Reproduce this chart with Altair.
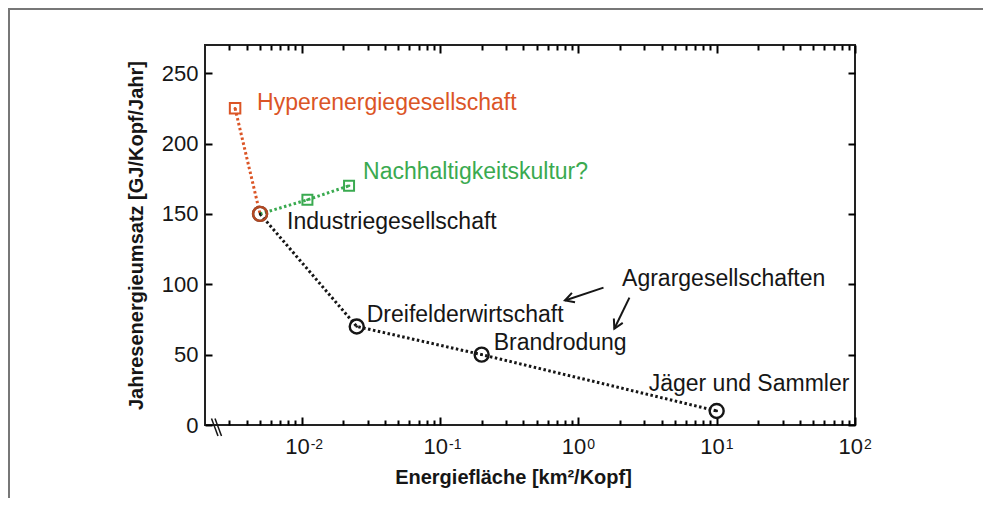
import altair as alt
import pandas as pd

# ---------------- data ----------------
societies = ["Hyperenergiegesellschaft", "Industriegesellschaft", "Dreifelderwirtschaft",
             "Brandrodung", "Jäger und Sammler"]
area_km2 = [0.0033, 0.005, 0.025, 0.2, 10]
energy_gj = [225, 150, 70, 50, 10]

sust_label = "Nachhaltigkeitskultur?"
sust_area = [0.005, 0.011, 0.022]
sust_energy = [150, 160, 170]

agrar_label = "Agrargesellschaften"
agrar_area = [2.07]
agrar_energy = [98.5]

arrow_tail_area = [1.52, 2.34]
arrow_tail_energy = [97.6, 90.5]
arrow_tip_area = [0.80, 1.82]
arrow_tip_energy = [88.5, 68.4]

x_major = [0.01, 0.1, 1, 10, 100]
x_exponents = ["-2", "-1", "0", "1", "2"]
x_minor_mult = [2, 3, 4, 5, 6, 7, 8, 9]
x_minor_decades = [0.001, 0.01, 0.1, 1, 10]
y_ticks = [0, 50, 100, 150, 200, 250]

# ---------------- styles ----------------
FONT = "Liberation Sans"
BLACK = "#161616"
ORANGE = "#DB5526"
GREEN = "#3AAA50"
DOTS = [2.5, 2.5]
W, H = 650, 380

x_minor = [m * d for d in x_minor_decades for m in x_minor_mult if 0.002 < m * d < 100]

xs = alt.Scale(type="log", domain=[0.002, 100])
ys = alt.Scale(domain=[0, 270])

X = alt.X("area:Q", scale=xs, axis=None)
Y = alt.Y("energy:Q", scale=ys, axis=None)

soc = pd.DataFrame({"name": societies, "area": area_km2, "energy": energy_gj,
                    "i": range(len(societies))})
sust = pd.DataFrame({"area": sust_area, "energy": sust_energy, "i": range(len(sust_area))})
xmaj = pd.DataFrame({"area": x_major, "exp": x_exponents})
xmin = pd.DataFrame({"area": x_minor})
ytk = pd.DataFrame({"energy": y_ticks})

black_path = soc.iloc[1:]
orange_path = soc.iloc[0:2]

layers = []

# ---------- axes (each on an invisible helper layer) ----------
x_title_axis = alt.Axis(orient="bottom", title="Energiefläche [km²/Kopf]", labels=False,
                        ticks=False, domain=False, grid=False, titleFont=FONT,
                        titleFontSize=20, titleFontWeight="bold", titleColor=BLACK,
                        titleX=308, titleY=58, titleBaseline="alphabetic")
y_label_axis = alt.Axis(orient="left", title="Jahresenergieumsatz [GJ/Kopf/Jahr]",
                        values=y_ticks, ticks=False, domain=False, grid=False,
                        labelFont=FONT, labelFontSize=22, labelColor=BLACK, labelPadding=7,
                        titleFont=FONT, titleFontSize=20, titleFontWeight="bold",
                        titleColor=BLACK, titleX=-63, titleAngle=270,
                        titleBaseline="alphabetic")

def tick_axis(orient, values, size, offset):
    return alt.Axis(orient=orient, values=values, ticks=True, tickSize=size, tickWidth=2,
                    tickColor="#000000", tickOpacity=1, labels=False, domain=False,
                    grid=False, title=None, offset=offset)

def x_axis_layer(axis, df):
    return alt.Chart(df).mark_point(opacity=0).encode(
        x=alt.X("area:Q", scale=xs, axis=axis))

def y_axis_layer(axis):
    return alt.Chart(ytk).mark_point(opacity=0).encode(
        y=alt.Y("energy:Q", scale=ys, axis=axis))

layers.append(x_axis_layer(x_title_axis, xmaj))
layers.append(x_axis_layer(tick_axis("top", x_major, 8, -H), xmaj))      # bottom edge, inward
layers.append(x_axis_layer(tick_axis("top", x_minor, 5, -H), xmin))
layers.append(x_axis_layer(tick_axis("bottom", x_major, 8, -H), xmaj))   # top edge, inward
layers.append(x_axis_layer(tick_axis("bottom", x_minor, 5, -H), xmin))
layers.append(y_axis_layer(y_label_axis))
layers.append(y_axis_layer(tick_axis("right", y_ticks, 7, -W)))          # left edge, inward
layers.append(y_axis_layer(tick_axis("left", y_ticks, 7, -W)))           # right edge, inward

# ---------- lines ----------
def dotted(df, color):
    return alt.Chart(df).mark_line(strokeDash=DOTS, strokeWidth=3, color=color).encode(
        x=X, y=Y, order="i:Q")

layers.append(dotted(black_path, BLACK))
layers.append(dotted(orange_path, ORANGE))
layers.append(dotted(sust, GREEN))

# ---------- markers ----------
layers.append(alt.Chart(black_path).mark_point(shape="circle", size=196, filled=False,
              strokeWidth=2.4, color=BLACK, opacity=1).encode(x=X, y=Y))
layers.append(alt.Chart(soc.iloc[1:2]).mark_point(shape="circle", size=196, filled=False,
              strokeWidth=2.4, color=ORANGE, opacity=0.8).encode(x=X, y=Y))
layers.append(alt.Chart(soc.iloc[0:1]).mark_point(shape="square", size=110, filled=False,
              strokeWidth=2, color=ORANGE, opacity=1).encode(x=X, y=Y))
layers.append(alt.Chart(sust.iloc[1:]).mark_point(shape="square", size=100, filled=False,
              strokeWidth=2, color=GREEN, opacity=1).encode(x=X, y=Y))
layers.append(alt.Chart(black_path).mark_point(shape="circle", size=7, filled=True,
              color=BLACK, opacity=1).encode(x=X, y=Y))
layers.append(alt.Chart(soc.iloc[0:1]).mark_point(shape="circle", size=7, filled=True,
              color=ORANGE, opacity=1).encode(x=X, y=Y))
layers.append(alt.Chart(sust.iloc[1:]).mark_point(shape="circle", size=7, filled=True,
              color=GREEN, opacity=1).encode(x=X, y=Y))

# ---------- point labels (offsets are styling) ----------
label_style = {
    "Hyperenergiegesellschaft": (22, 2, ORANGE),
    "Industriegesellschaft": (27, 15.5, BLACK),
    "Dreifelderwirtschaft": (10, -4.5, BLACK),
    "Brandrodung": (12, -5, BLACK),
    "Jäger und Sammler": (-68, -20, BLACK),
}
for name, (dx, dy, col) in label_style.items():
    layers.append(alt.Chart(soc[soc["name"] == name]).mark_text(
        align="left", baseline="alphabetic", dx=dx, dy=dy, font=FONT, fontSize=23,
        color=col).encode(x=X, y=Y, text="name:N"))

layers.append(alt.Chart(sust.iloc[2:]).mark_text(
    align="left", baseline="alphabetic", dx=14, dy=-6.5, font=FONT, fontSize=23,
    color=GREEN, text=sust_label).encode(x=X, y=Y))

agrar = pd.DataFrame({"area": agrar_area, "energy": agrar_energy, "t": [agrar_label]})
layers.append(alt.Chart(agrar).mark_text(align="left", baseline="alphabetic", font=FONT,
              fontSize=23, color=BLACK).encode(x=X, y=Y, text="t:N"))

# ---------- arrows ----------
arrows = pd.DataFrame({
    "arrow": [0, 0, 1, 1],
    "i": [0, 1, 0, 1],
    "area": [arrow_tail_area[0], arrow_tip_area[0], arrow_tail_area[1], arrow_tip_area[1]],
    "energy": [arrow_tail_energy[0], arrow_tip_energy[0], arrow_tail_energy[1], arrow_tip_energy[1]],
})
layers.append(alt.Chart(arrows).mark_line(strokeWidth=2, color=BLACK).encode(
    x=X, y=Y, detail="arrow:N", order="i:Q"))
HEAD = "M-0.55,1L0,0L0.55,1"
for k, ang in [(0, 251.7), (1, 206.3)]:
    tip = arrows[(arrows["arrow"] == k) & (arrows["i"] == 1)]
    layers.append(alt.Chart(tip).mark_point(shape=HEAD, size=324, filled=False, strokeWidth=2,
                  color=BLACK, opacity=1, angle=ang).encode(x=X, y=Y))

# ---------- x tick labels 10^n ----------
layers.append(alt.Chart(xmaj).mark_text(align="right", baseline="alphabetic", dx=8, font=FONT,
              fontSize=22, color=BLACK, text="10").encode(x=X, y=alt.value(408.5)))
layers.append(alt.Chart(xmaj).mark_text(align="left", baseline="alphabetic", dx=9, font=FONT,
              fontSize=14, color=BLACK).encode(x=X, y=alt.value(403.5), text="exp:N"))

# ---------- axis break marker and outer frame (decoration) ----------
one = alt.Data(values=[{}])
layers.append(alt.Chart(one).mark_rule(color=BLACK, strokeWidth=1.5).encode(
    x=alt.value(6.5), x2=alt.value(13), y=alt.value(373.5), y2=alt.value(391)))
layers.append(alt.Chart(one).mark_rule(color=BLACK, strokeWidth=1.5).encode(
    x=alt.value(10), x2=alt.value(16.5), y=alt.value(373.5), y2=alt.value(391)))
layers.append(alt.Chart(one).mark_rule(color="#777777", strokeWidth=2).encode(
    x=alt.value(-197), x2=alt.value(778), y=alt.value(-36)))
layers.append(alt.Chart(one).mark_rule(color="#777777", strokeWidth=2).encode(
    x=alt.value(-196), y=alt.value(-37), y2=alt.value(453)))

chart = alt.layer(*layers).resolve_axis(x="independent", y="independent").properties(
    width=W, height=H, autosize="none",
    padding={"left": 197, "top": 37, "right": 128, "bottom": 73},
).configure_view(stroke="#222222", strokeWidth=2)

chart.save("out.html", embed_options={"renderer": "svg", "actions": False})
